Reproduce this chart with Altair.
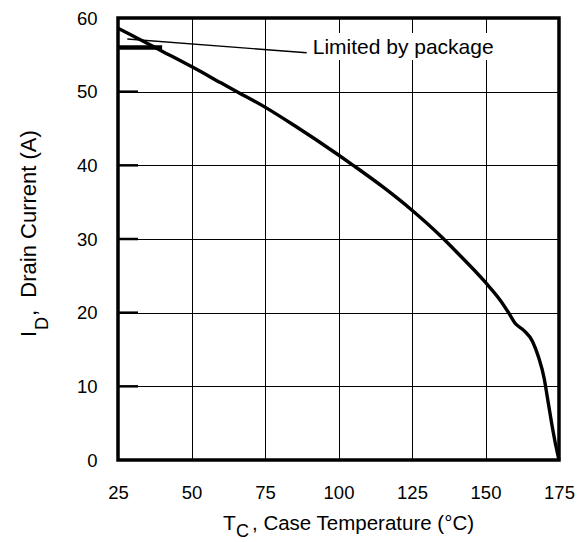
import altair as alt
import pandas as pd

# ---- data ----
temp_c = [25, 30, 40, 50, 60, 65, 75, 85, 100, 105, 115, 125, 135, 140, 150,
          155, 158, 160, 163, 166, 168, 170, 171, 172.5, 174, 175]
drain_a = [58.6, 57.6, 55.5, 53.4, 51.2, 50.1, 47.9, 45.4, 41.4, 40.0, 37.1, 33.9,
           30.3, 28.3, 24.1, 21.7, 19.9, 18.6, 17.6, 16.1, 14.0, 11.0, 8.6, 5.0, 1.8, 0]
pkg_temp = [25, 40]
pkg_current = [56, 56]
x_ticks = [25, 50, 75, 100, 125, 150, 175]
y_ticks = [0, 10, 20, 30, 40, 50, 60]
inner_ticks = [10, 20, 30, 40, 50]
annotation = ["Limited by package"]

FONT = "Liberation Sans"
NB = "\u00a0"

curve_df = pd.DataFrame({"T": temp_c, "I": drain_a})
pkg_df = pd.DataFrame({"T": pkg_temp, "I": pkg_current})
tick_df = pd.DataFrame({"I": inner_ticks})
one = pd.DataFrame({"label": annotation})

xscale = alt.Scale(domain=[25, 175], nice=False, zero=False)
yscale = alt.Scale(domain=[0, 60], nice=False)

common_axis = dict(title=None, grid=True, ticks=False, domain=False,
                   labelFontSize=18.5, labelFont=FONT, labelColor="black",
                   gridColor="black", gridWidth=1, gridOpacity=1, labelFlush=False)

curve = alt.Chart(curve_df).mark_line(color="black", strokeWidth=3.4, interpolate="monotone").encode(
    x=alt.X("T:Q", scale=xscale, axis=alt.Axis(values=x_ticks, labelPadding=23, **common_axis)),
    y=alt.Y("I:Q", scale=yscale, axis=alt.Axis(values=y_ticks, labelPadding=21, **common_axis)),
)

pkg = alt.Chart(pkg_df).mark_line(color="black", strokeWidth=4.5).encode(
    x=alt.X("T:Q", scale=xscale), y=alt.Y("I:Q", scale=yscale)
)

ticks = alt.Chart(tick_df).mark_rule(color="black", strokeWidth=2.5).encode(
    y=alt.Y("I:Q", scale=yscale), x=alt.value(0), x2=alt.value(20)
)

box = alt.Chart(one).mark_rect(color="white").encode(
    x=alt.value(190), x2=alt.value(381), y=alt.value(15), y2=alt.value(42)
)

leader = alt.Chart(one).mark_rule(color="black", strokeWidth=1.4).encode(
    x=alt.value(9.3), x2=alt.value(188.7), y=alt.value(21), y2=alt.value(34.7)
)

label = alt.Chart(one).mark_text(font=FONT, fontSize=21, align="left", baseline="alphabetic",
                                 color="black").encode(
    text="label:N", x=alt.value(194.7), y=alt.value(36)
)

def txt(s, x, y, size=20, angle=0):
    return alt.Chart(pd.DataFrame({"s": [s]})).mark_text(
        font=FONT, fontSize=size, align="left", baseline="alphabetic", color="black", angle=angle
    ).encode(text="s:N", x=alt.value(x), y=alt.value(y))

xt1 = txt("T", 105, 512, size=21)
xt2 = txt("C", 118, 519, size=18)
xt3 = txt(NB + ", Case Temperature (\u00b0C)", 134, 512, size=20.5)

yt1 = txt("I", -82, 319, size=22, angle=270)
yt2 = txt("D", -70, 312, size=18, angle=270)
yt3 = txt("," + NB + NB + "Drain Current (A)", -82, 298, size=22, angle=270)

chart = alt.layer(
    box, curve, pkg, ticks, leader, label, xt1, xt2, xt3, yt1, yt2, yt3
).properties(
    width=441, height=442,
    autosize=alt.AutoSizeParams(type="none"),
    padding={"left": 110, "top": 10, "right": 18, "bottom": 82},
).configure_view(
    stroke="black", strokeWidth=3.5
)

chart.save("out.html", embed_options={"renderer": "svg", "actions": False})
